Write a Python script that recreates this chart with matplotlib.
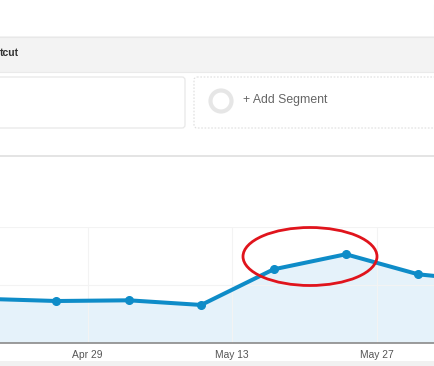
import numpy as np
import pandas as pd
import matplotlib
matplotlib.use("Agg")
import matplotlib.pyplot as plt
from matplotlib.patches import Ellipse, FancyBboxPatch, Rectangle, Circle

plt.rcParams["font.family"] = ["Liberation Sans", "DejaVu Sans"]

# weekly data points (cropped screenshot of an analytics line chart)
weeks = pd.to_datetime(["2014-04-19", "2014-04-26", "2014-05-03", "2014-05-10",
                        "2014-05-17", "2014-05-24", "2014-05-31", "2014-06-07"])
sessions = [38.1, 36.2, 36.8, 32.8, 63.5, 76.5, 59.2, 53.0]
tick_dates = pd.to_datetime(["2014-04-29", "2014-05-13", "2014-05-27"])
tick_labels = ["Apr 29", "May 13", "May 27"]
y_grid = [0, 50, 100]

W, H = 435, 366
fig = plt.figure(figsize=(W / 100, H / 100), dpi=100)
fig.patch.set_facecolor("white")

# page chrome, drawn in pixel coords
bg = fig.add_axes([0, 0, 1, 1], zorder=0)
bg.set_xlim(0, W)
bg.set_ylim(H, 0)
bg.axis("off")

bg.plot([434, 434], [5, 28], color="#e6e6e6", lw=0.8)
bg.add_patch(Rectangle((0, 36), W, 36, facecolor="#f3f3f3", edgecolor="none"))
bg.plot([0, W], [36.5, 36.5], color="#e8e8e8", lw=0.8)
bg.plot([0, W], [71.5, 71.5], color="#eaeaea", lw=0.8)
bg.text(0, 53, "tcut", fontsize=7.6, fontweight="bold", color="#333333",
        va="center", ha="left")

bg.add_patch(FancyBboxPatch((-10, 77), 195, 51, boxstyle="round,pad=0,rounding_size=3",
                            facecolor="white", edgecolor="#e8e8e8", lw=0.9))
bg.add_patch(FancyBboxPatch((194, 77), 260, 51, boxstyle="round,pad=0,rounding_size=3",
                            facecolor="white", edgecolor="#dedede", lw=0.8,
                            linestyle=(0, (1.5, 1.5))))
bg.add_patch(Circle((221, 101), 10.5, facecolor="none", edgecolor="#e6e6e6", lw=3))
bg.text(243, 100, "+ Add Segment", fontsize=8.8, color="#666666",
        va="center", ha="left")

bg.plot([0, W], [156, 156], color="#e4e4e4", lw=1.4)
bg.add_patch(Rectangle((0, 361), W, 5, facecolor="#f1f1f1", edgecolor="none"))

# the chart itself
ax = fig.add_axes([0, (H - 343) / H, 1, (343 - 227) / H], zorder=1)
ax.patch.set_alpha(0)
per_day = 72.35 / 7
apr29 = tick_dates[0]
ax.set_xlim(apr29 - pd.Timedelta(days=87.5 / per_day),
            apr29 + pd.Timedelta(days=(W - 87.5) / per_day))
ax.set_ylim(0, 100)

ax.fill_between(weeks, sessions, 0, color="#e5f2fa", zorder=1)
ax.plot(weeks, sessions, color="#0e8cc8", lw=2.9, marker="o", ms=5.5,
        zorder=3, clip_on=True)

ax.set_yticks(y_grid)
ax.set_xticks(tick_dates)
ax.set_xticklabels(tick_labels)
ax.grid(True, color="#f3f3f3", lw=0.8, zorder=0)
ax.tick_params(axis="x", length=0, pad=5, labelsize=7.4, labelcolor="#555555")
ax.tick_params(axis="y", length=0, labelleft=False)
for s in ["top", "left", "right"]:
    ax.spines[s].set_visible(False)
ax.spines["bottom"].set_color("#8a8a8a")
ax.spines["bottom"].set_linewidth(1.2)

# red highlight ellipse on top
top = fig.add_axes([0, 0, 1, 1], zorder=2)
top.set_xlim(0, W)
top.set_ylim(H, 0)
top.axis("off")
top.add_patch(Ellipse((310, 256.5), 134, 58, facecolor="none",
                      edgecolor="#e0141c", lw=2.0))

fig.savefig("out.png", dpi=100)
